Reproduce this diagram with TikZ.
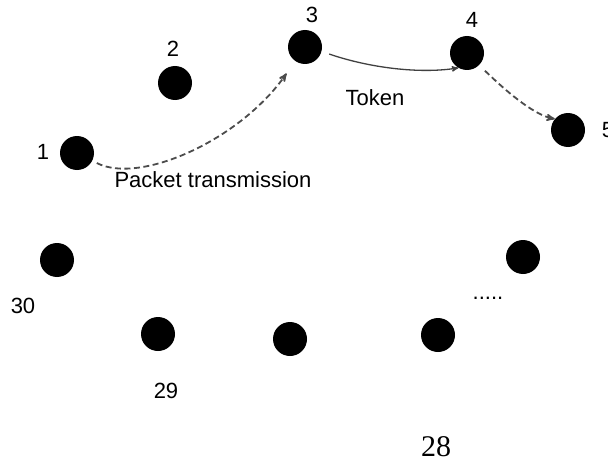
\documentclass[tikz,border=0pt]{standalone}
\usepackage{fontspec}
\setmainfont{Liberation Sans}
\newfontfamily\seriffont{Liberation Serif}
\usetikzlibrary{
	arrows,
	positioning
}
\tikzset{
	>=stealth',
	netnode/.style={circle, fill=black, minimum size=34pt, inner sep=0pt},
	nodelabel/.style={anchor=base, inner sep=0pt, font=\fontsize{22}{26}\selectfont},
	seriflabel/.style={anchor=base, inner sep=0pt, font=\seriffont\fontsize{30}{34}\selectfont},
	packetedge/.style={->, dash pattern=on 6pt off 3.5pt, line width=1.8pt, color=black!70},
	tokenedge/.style={->, line width=1.3pt, color=black!75}
}

\begin{document}
\begin{tikzpicture}[x=1pt, y=-1pt]
	\useasboundingbox (0,0) rectangle (608,460);
	% ring of stations
	\foreach \name/\x/\y in {n1/77/153, n2/175/83, n3/305/47, n4/467/53, n5/568/130,
		nrest/523/257, n28/438/335, nmid/290/339, n29/158/334, n30/57/260} {
		\node[netnode] (\name) at (\x,\y) {};
	}
	% station numbers
	\foreach \name/\txt/\x/\y in {l1/1/43/159, l2/2/173/57, l3/3/312/23, l4/4/472/28,
		l5/5/608/137, l30/30/23/313, l29/29/166/398} {
		\node[nodelabel] (\name) at (\x,\y) {\txt};
	}
	\node[nodelabel] (lrest) at (488,299) {.....};
	\node[seriflabel] (l28) at (436,456) {28};
	% transfers
	\draw[packetedge, shorten <=5pt, shorten >=15pt] (n1) .. controls (140,185) and (240,140) .. (n3);
	\draw[tokenedge, shorten <=8pt] (n3.-15) .. controls (370,68) and (420,74) .. (n4.240);
	\draw[packetedge, shorten <=8pt] (n4.-45) .. controls (510,95) and (535,115) .. (n5.140);
	\node[nodelabel] (ltoken) at (375,106) {Token};
	\node[nodelabel] (lpacket) at (213,187) {Packet transmission};
\end{tikzpicture}
\end{document}
